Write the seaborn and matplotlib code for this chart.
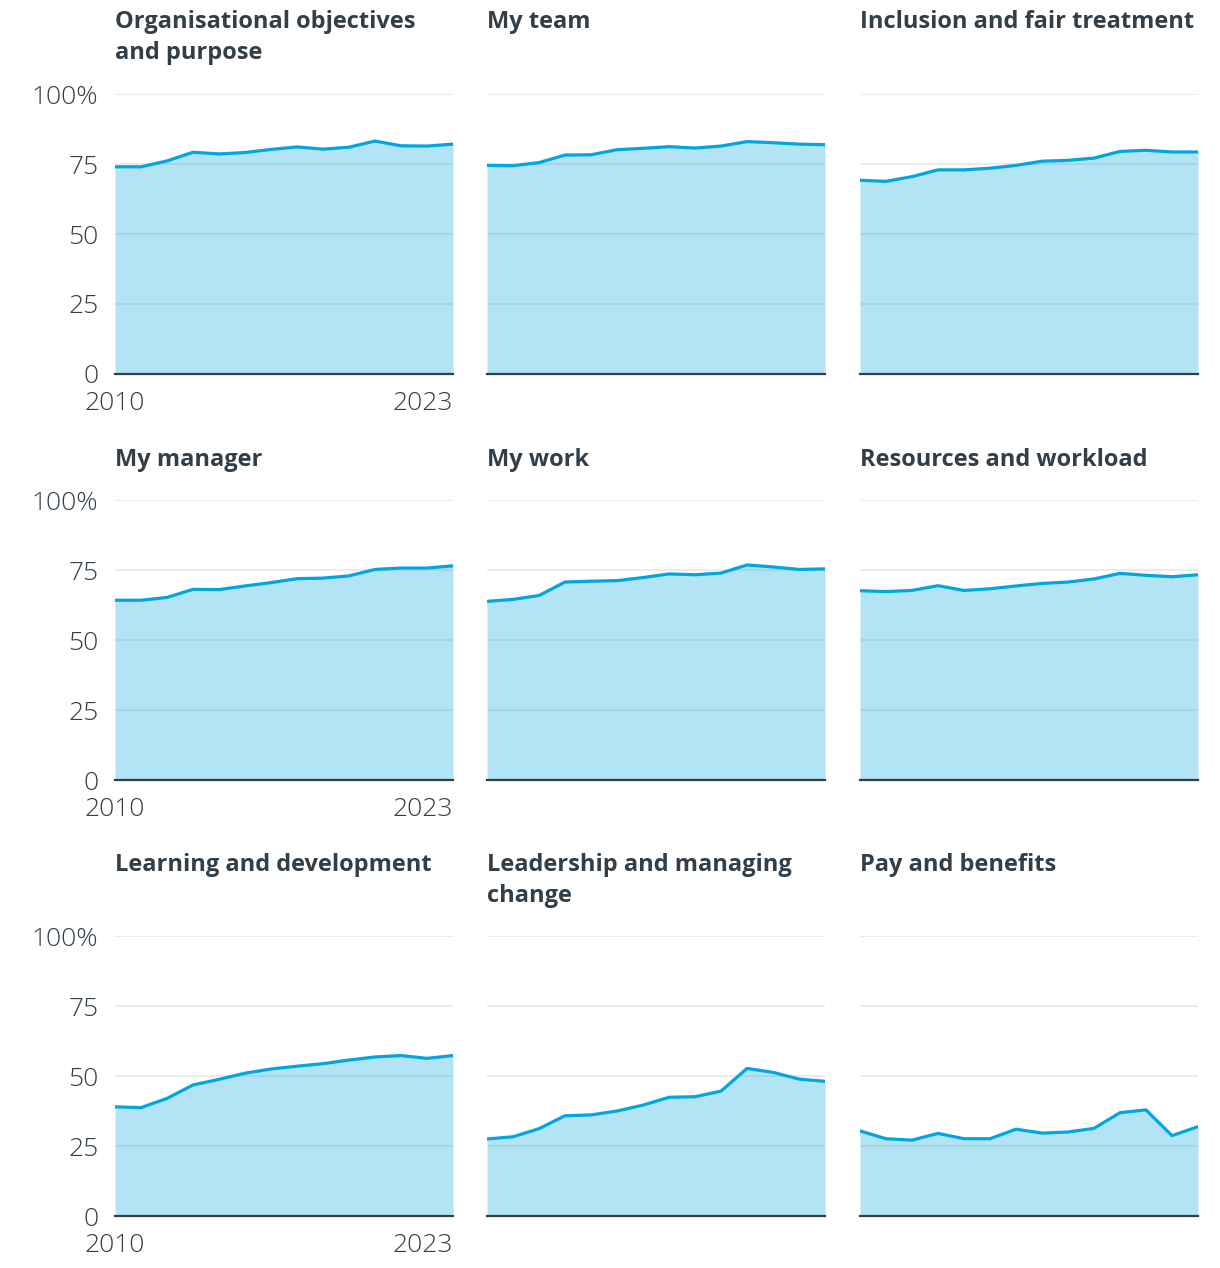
"""
Small multiples: share of positive answers per survey theme, 2010-2023
"""

import numpy as np
import pandas as pd
import matplotlib
matplotlib.use('Agg')
import matplotlib.pyplot as plt
import seaborn as sns

years = list(range(2010, 2024))

themes = [
    'Organisational objectives\nand purpose',
    'My team',
    'Inclusion and fair treatment',
    'My manager',
    'My work',
    'Resources and workload',
    'Learning and development',
    'Leadership and managing\nchange',
    'Pay and benefits',
]

org_objectives = [74.0, 74.0, 76.1, 79.2, 78.6, 79.1, 80.2, 81.1, 80.3, 81.0, 83.2, 81.5, 81.4, 82.1]
my_team = [74.5, 74.4, 75.5, 78.2, 78.3, 80.1, 80.6, 81.2, 80.7, 81.4, 83.0, 82.6, 82.1, 81.9]
inclusion = [69.2, 68.8, 70.5, 72.9, 72.9, 73.5, 74.5, 76.0, 76.3, 77.1, 79.5, 79.9, 79.3, 79.3]
my_manager = [64.2, 64.2, 65.2, 68.1, 68.0, 69.3, 70.5, 71.9, 72.1, 72.9, 75.2, 75.7, 75.7, 76.5]
my_work = [63.8, 64.5, 65.9, 70.7, 71.0, 71.2, 72.3, 73.6, 73.3, 73.9, 76.8, 76.1, 75.2, 75.4]
resources = [67.6, 67.3, 67.7, 69.4, 67.7, 68.3, 69.3, 70.2, 70.7, 71.8, 73.8, 73.1, 72.6, 73.3]
learning = [39.0, 38.7, 42.0, 46.8, 48.8, 51.0, 52.5, 53.5, 54.4, 55.7, 56.8, 57.3, 56.3, 57.3]
leadership = [27.5, 28.3, 31.2, 35.8, 36.1, 37.5, 39.6, 42.4, 42.6, 44.6, 52.7, 51.3, 48.9, 48.1]
pay = [30.4, 27.6, 27.1, 29.5, 27.6, 27.6, 31.0, 29.6, 30.0, 31.3, 36.9, 37.9, 28.7, 31.9]

series = [org_objectives, my_team, inclusion, my_manager, my_work,
          resources, learning, leadership, pay]

y_ticks = [0, 25, 50, 75, 100]
y_tick_labels = ['0', '25', '50', '75', '100%']

df = pd.DataFrame({
    'theme': np.repeat(themes, len(years)),
    'year': years * len(themes),
    'value': np.concatenate(series),
})

LINE = '#00a6e0'
TEXT = '#333f48'

sns.set_theme(style='white')
plt.rcParams['font.family'] = ['Open Sans', 'DejaVu Sans']

W, H = 1220, 1268
fig = plt.figure(figsize=(W / 100, H / 100), dpi=100)

# pixel layout
col_left = [115, 487, 860]
row_top = [94, 500, 936]
title_top = [10, 448, 853]
ax_w, ax_h = 338, 280

for i, theme in enumerate(themes):
    r, c = divmod(i, 3)
    ax = fig.add_axes([col_left[c] / W, 1 - (row_top[r] + ax_h) / H, ax_w / W, ax_h / H])
    sub = df[df['theme'] == theme]

    ax.fill_between(sub['year'], sub['value'], 0, color=LINE, alpha=0.3, lw=0, zorder=2)
    sns.lineplot(data=sub, x='year', y='value', ax=ax, color=LINE, lw=2.3, zorder=3)

    ax.set_xlim(2010, 2023)
    ax.set_ylim(0, 100)
    ax.set_yticks(y_ticks)
    for y in y_ticks[1:]:
        ax.axhline(y, color='#e9e9e9', lw=1.3, zorder=1)

    for s in ['top', 'right', 'left']:
        ax.spines[s].set_visible(False)
    ax.spines['bottom'].set_color(TEXT)
    ax.spines['bottom'].set_linewidth(1.6)
    ax.spines['bottom'].set_zorder(4)

    ax.set_xlabel('')
    ax.set_ylabel('')
    ax.tick_params(length=0)

    if c == 0:
        ax.set_yticklabels(y_tick_labels, fontsize=19, color=TEXT, fontweight='light')
        ax.tick_params(axis='y', pad=12)
        ax.set_xticks([2010, 2023])
        ax.set_xticklabels(['2010', '2023'], fontsize=19, color=TEXT, fontweight='light')
        ax.get_xticklabels()[-1].set_horizontalalignment('right')
        ax.tick_params(axis='x', pad=12)
    else:
        ax.set_yticklabels([])
        ax.set_xticks([])

    off = (row_top[r] - title_top[r]) / ax_h
    ax.text(0, 1 + off, theme, transform=ax.transAxes, ha='left', va='top',
            fontsize=17, fontweight='bold', color=TEXT, linespacing=1.4)

fig.savefig('out.png', dpi=100)
